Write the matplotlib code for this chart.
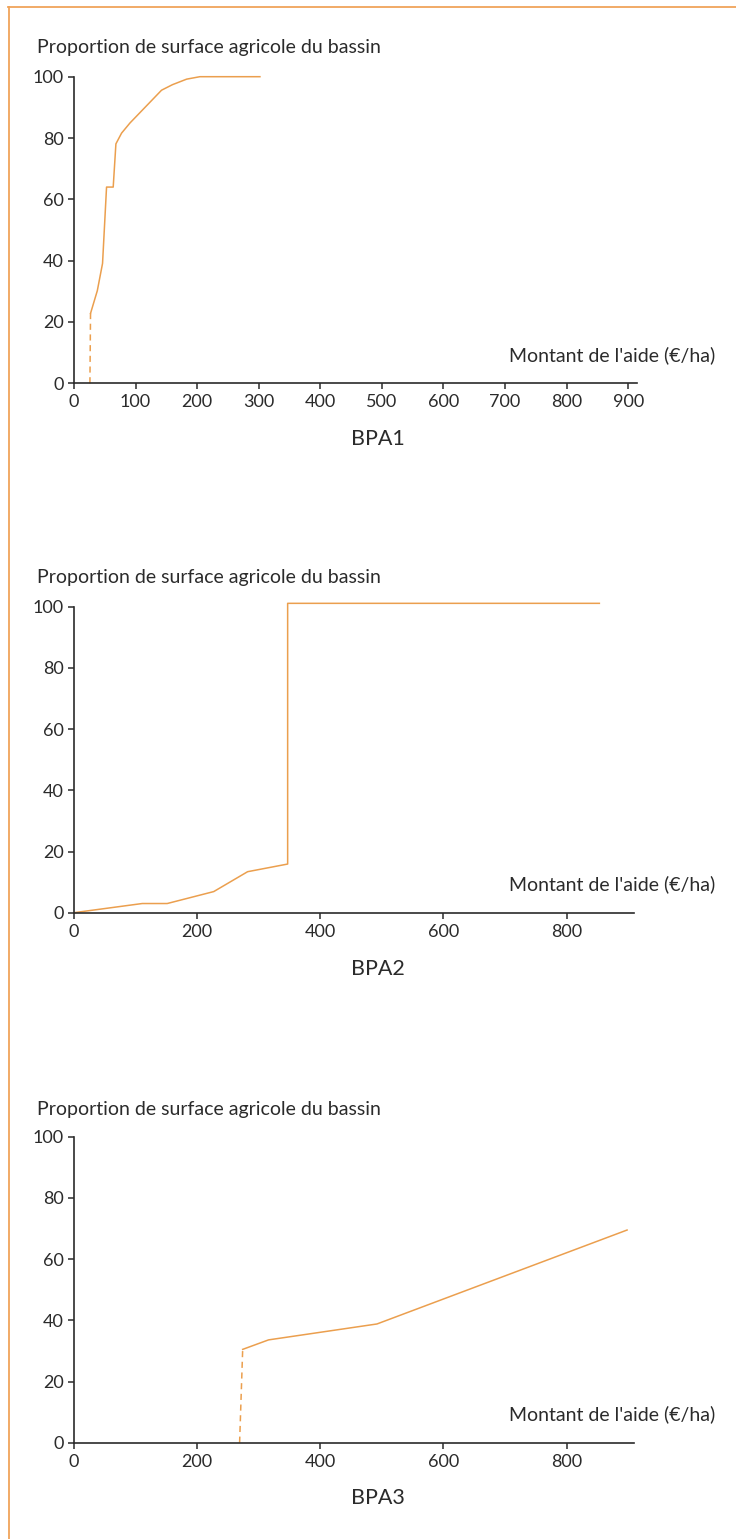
import matplotlib
matplotlib.use('Agg')
import matplotlib.pyplot as plt
from matplotlib.lines import Line2D

# ── data ──────────────────────────────────────────────────────────────────────
# BPA1: dashed jump from the axis, then the cumulative curve
bpa1_dash_x = [26, 27]
bpa1_dash_y = [0, 22.8]
bpa1_x = [27, 38, 46.5, 53, 63.8, 68.2, 77.4, 91, 142.3, 160, 183, 204.5, 302]
bpa1_y = [22.8, 30.2, 39.1, 64, 64, 78.1, 81.6, 84.9, 95.6, 97.4, 99.2, 100, 100]

# BPA2: solid curve from the origin
bpa2_x = [0, 111, 151.5, 227, 282, 347, 347, 853]
bpa2_y = [0, 3.0, 3.0, 6.9, 13.4, 15.9, 101.1, 101.1]

# BPA3: dashed jump, then the curve
bpa3_dash_x = [269, 274]
bpa3_dash_y = [0, 30.5]
bpa3_x = [274, 316, 492, 898]
bpa3_y = [30.5, 33.6, 38.8, 69.5]

yticks = [0, 20, 40, 60, 80, 100]
xticks_1 = [0, 100, 200, 300, 400, 500, 600, 700, 800, 900]
xticks_23 = [0, 200, 400, 600, 800]

YLABEL = 'Proportion de surface agricole du bassin'
XLABEL = "Montant de l'aide (€/ha)"

ORANGE = '#EB9F4E'
FRAME = '#F0A45A'
INK = '#2b2b2b'
FONT = ['Lato', 'DejaVu Sans']

W, H = 736, 1539
PX_PER_UNIT = 0.616
X0 = 73.9
plt.rcParams['font.family'] = FONT

fig = plt.figure(figsize=(W / 100, H / 100), dpi=100)


def px_axes(left, top, right, bottom):
    return fig.add_axes([left / W, 1 - bottom / H, (right - left) / W, (bottom - top) / H])


def style(ax, xmax, xticks):
    ax.set_xlim(0, xmax)
    ax.set_ylim(0, 100)
    ax.set_xticks(xticks)
    ax.set_yticks(yticks)
    for s in ['top', 'right']:
        ax.spines[s].set_visible(False)
    for s in ['left', 'bottom']:
        ax.spines[s].set_color(INK)
        ax.spines[s].set_linewidth(1.2)
    ax.tick_params(axis='both', direction='out', length=4, width=1.1, color=INK,
                   labelsize=13, labelcolor=INK)
    ax.tick_params(axis='x', pad=4)
    ax.tick_params(axis='y', pad=3.5)
    ax.patch.set_alpha(0)


def fig_text(x, y, s, **kw):
    fig.text(x / W, 1 - y / H, s, color=INK, **kw)


panels = [
    # (top px, bottom px, xmax, xticks, name, ylabel y, xlabel y, name y)
    (76.7, 383.3, 914.6, xticks_1, 'BPA1', 47, 355, 439),
    (606.7, 912.7, 909, xticks_23, 'BPA2', 578, 884, 969),
    (1136.7, 1442.7, 909, xticks_23, 'BPA3', 1109, 1414, 1498),
]

axes = []
for top, bottom, xmax, xt, name, yl, xl, nm in panels:
    ax = px_axes(X0, top, X0 + xmax * PX_PER_UNIT, bottom)
    style(ax, xmax, xt)
    axes.append(ax)
    fig_text(37, yl, YLABEL, fontsize=14, ha='left', va='center')
    fig_text(715, xl, XLABEL, fontsize=14, ha='right', va='center')
    fig_text(378, nm, name, fontsize=15.5, ha='center', va='center')

ax1, ax2, ax3 = axes

ax1.plot(bpa1_dash_x, bpa1_dash_y, color=ORANGE, lw=1.1, dashes=(4, 3), clip_on=False)
ax1.plot(bpa1_x, bpa1_y, color=ORANGE, lw=1.1, clip_on=False)

ax2.plot(bpa2_x, bpa2_y, color=ORANGE, lw=1.1, clip_on=False)

ax3.plot(bpa3_dash_x, bpa3_dash_y, color=ORANGE, lw=1.1, dashes=(4, 3), clip_on=False)
ax3.plot(bpa3_x, bpa3_y, color=ORANGE, lw=1.1, clip_on=False)

# orange frame: top and left edges only
fig.add_artist(Line2D([8.5 / W, 8.5 / W], [1 - 7 / H, 0], transform=fig.transFigure,
                      color=FRAME, lw=1.3))
fig.add_artist(Line2D([8 / W, 1], [1 - 7 / H, 1 - 7 / H], transform=fig.transFigure,
                      color=FRAME, lw=1.3))

fig.savefig('out.png', dpi=100)
